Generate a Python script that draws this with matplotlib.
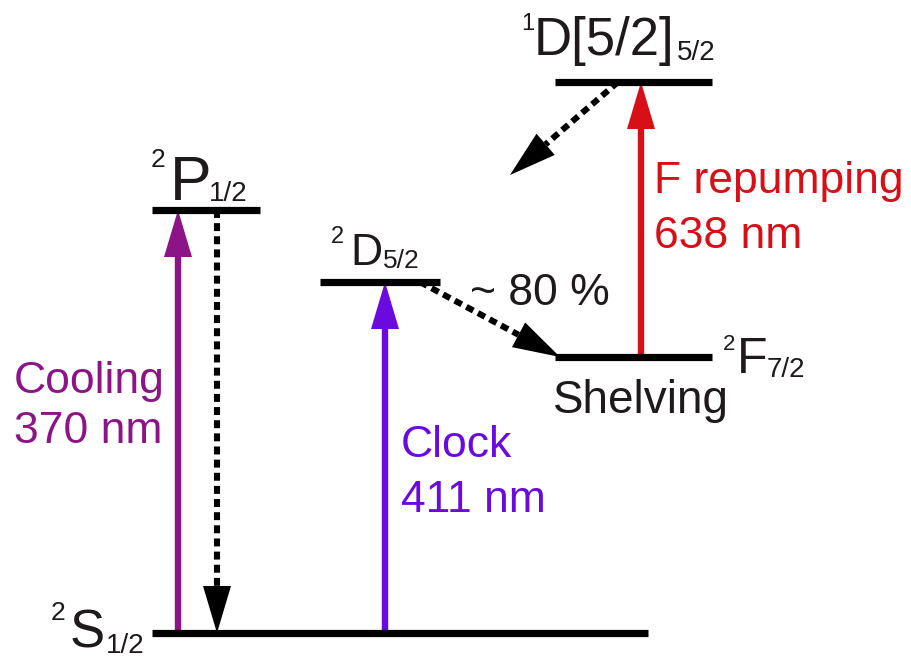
"""
Energy level scheme of the Yb+ ion: cooling, clock, shelving and repumping.

Writes out.png (912 x 659 px).
"""
import numpy as np
import matplotlib.pyplot as plt

plt.rcParams['font.family'] = ['Liberation Sans', 'DejaVu Sans']

# energy levels, drawn in picture pixel space (y grows downward)
level_names = ['2S1/2', '2P1/2', '2D5/2', '2F7/2', '1D[5/2]5/2']
level_y = [633, 210, 282, 357, 82]
level_x0 = [152, 152, 320, 555, 555]
level_x1 = [648, 260, 440, 712, 712]

# transitions between levels (None = arrow stops in free space)
tr_from = [0, 1, 0, 2, 3, 4]
tr_to = [1, 0, 2, 3, 4, None]
tr_x0 = [178, 217, 385, 420, 641, 618]
tr_x1 = [178, 217, 385, 560, 641, 510]
free_end_y = 175
tr_kind = ['laser', 'decay', 'laser', 'decay', 'laser', 'decay']

laser_names = ['Cooling', 'Clock', 'F repumping']
laser_wavelengths = ['370 nm', '411 nm', '638 nm']
branching_label = '~ 80 %'
shelving_label = 'Shelving'

# ---- styles / layout ----
INK = '#1e1a1b'
LASER_COLORS = ['#8c1487', '#6a0ade', '#d70f16']
LEVEL_LW = 5.2
LASER_LW = 4.6
DECAY_LW = 4.4
HEAD_L = 47
HEAD_W = 28

# level label parts: (text, left x, baseline y, size pt)
level_label_parts = [
    [('2', 51, 620, 19), ('S', 70, 647, 38), ('1/2', 106, 653, 20)],
    [('2', 151, 167, 19), ('P', 170, 200, 45), ('1/2', 209, 201, 20)],
    [('2', 331, 243, 17), ('D', 350, 265, 32), ('5/2', 383, 268, 19)],
    [('2', 723, 350, 16), ('F', 737, 373, 36), ('7/2', 767, 377, 20)],
    [('1', 521, 30, 17), ('D[5/2]', 534, 55, 38), ('5/2', 677, 60, 20)],
]
# laser label positions: left x, baseline of first and second line
laser_label_pos = [(14, 393, 443), (401, 457, 512), (654, 193, 248)]


def draw_arrow(ax, x0, y0, x1, y1, color, dotted):
    d = np.array([x1 - x0, y1 - y0], dtype=float)
    u = d / np.hypot(*d)
    n = np.array([-u[1], u[0]])
    tip = np.array([x1, y1], dtype=float)
    base = tip - u * HEAD_L
    if dotted:
        ax.plot([x0, base[0]], [y0, base[1]], color=color, lw=DECAY_LW,
                ls=(0, (1.3, 0.85)), dash_capstyle='butt', zorder=2)
    else:
        end = base + u * 4
        ax.plot([x0, end[0]], [y0, end[1]], color=color, lw=LASER_LW,
                solid_capstyle='butt', zorder=2)
    tri = np.array([tip, base + n * HEAD_W / 2, base - n * HEAD_W / 2])
    ax.fill(tri[:, 0], tri[:, 1], color=color, lw=0, zorder=3)


def main():
    fig = plt.figure(figsize=(9.12, 6.59), dpi=100)
    ax = fig.add_axes([0, 0, 1, 1])
    ax.set_xlim(0, 912)
    ax.set_ylim(659, 0)
    ax.axis('off')

    for i in range(len(level_names)):
        ax.plot([level_x0[i], level_x1[i]], [level_y[i], level_y[i]],
                color='black', lw=LEVEL_LW, solid_capstyle='butt', zorder=4)
        for txt, x, y, size in level_label_parts[i]:
            ax.text(x, y, txt, fontsize=size, color=INK, ha='left', va='baseline')

    laser_i = 0
    for k in range(len(tr_from)):
        y0 = level_y[tr_from[k]]
        y1 = level_y[tr_to[k]] if tr_to[k] is not None else free_end_y
        if tr_kind[k] == 'laser':
            color = LASER_COLORS[laser_i]
            draw_arrow(ax, tr_x0[k], y0, tr_x1[k], y1, color, dotted=False)
            lx, b1, b2 = laser_label_pos[laser_i]
            ax.text(lx, b1, laser_names[laser_i], fontsize=32, color=color,
                    ha='left', va='baseline')
            ax.text(lx, b2, laser_wavelengths[laser_i], fontsize=32, color=color,
                    ha='left', va='baseline')
            laser_i += 1
        else:
            draw_arrow(ax, tr_x0[k], y0, tr_x1[k], y1, 'black', dotted=True)

    ax.text(470, 305, branching_label, fontsize=32, color=INK, ha='left', va='baseline')
    ax.text(553, 413, shelving_label, fontsize=33, color=INK, ha='left', va='baseline')

    fig.savefig('out.png', dpi=100)


if __name__ == '__main__':
    main()
